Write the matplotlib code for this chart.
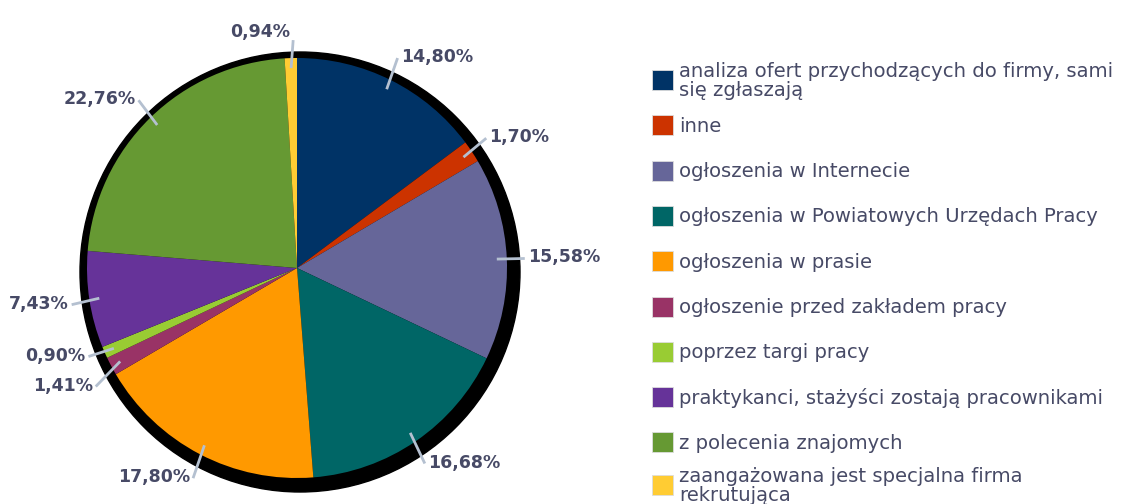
import numpy as np
import matplotlib
matplotlib.use("Agg")
import matplotlib.pyplot as plt
from matplotlib.patches import Circle, Rectangle

categories = [
    "analiza ofert przychodzących do firmy, sami\nsię zgłaszają",
    "inne",
    "ogłoszenia w Internecie",
    "ogłoszenia w Powiatowych Urzędach Pracy",
    "ogłoszenia w prasie",
    "ogłoszenie przed zakładem pracy",
    "poprzez targi pracy",
    "praktykanci, stażyści zostają pracownikami",
    "z polecenia znajomych",
    "zaangażowana jest specjalna firma\nrekrutująca",
]
values = [14.80, 1.70, 15.58, 16.68, 17.80, 1.41, 0.90, 7.43, 22.76, 0.94]
colors = ["#003366", "#CC3300", "#666699", "#006666", "#FF9900",
          "#993366", "#99CC33", "#663399", "#669933", "#FFCC33"]

TXT = "#474a66"
LEAD = "#b4c0d0"

W, H = 1128, 504
fig = plt.figure(figsize=(W / 100, H / 100), dpi=100)
ax = fig.add_axes([0, 0, 1, 1])

cx, cy, r = 297, 268, 210
# shadow
ax.add_patch(Circle((cx + 3, cy + 4), r + 10, color="black", zorder=1))

# y axis is inverted (pixel coordinates), so a visually clockwise pie
# starting at 12 o'clock is counterclockwise from -90 degrees in data space
wedges, _ = ax.pie(values, colors=colors, startangle=-90, counterclock=True,
                   radius=r, center=(cx, cy), wedgeprops=dict(linewidth=0),
                   frame=True)
for w in wedges:
    w.set_zorder(2)
ax.set_xlim(0, W)
ax.set_ylim(H, 0)
ax.set_aspect("equal")
ax.axis("off")

# label placement
cum = np.cumsum([0] + values[:-1])
labs = []
for v, c0 in zip(values, cum):
    ang = np.deg2rad(90 - (c0 + v / 2) * 3.6)
    ca, sa = np.cos(ang), -np.sin(ang)  # y axis inverted
    labs.append(dict(v=v, ca=ca, sa=sa, tx=cx + 231 * ca, ty=cy + 236 * sa))

# resolve vertical collisions on each side
min_gap = 30
for side in (1, -1):
    grp = sorted([l for l in labs if np.sign(l["ca"]) == side],
                 key=lambda l: l["ty"])
    for a, b in zip(grp[:-1], grp[1:]):
        gap = b["ty"] - a["ty"]
        if gap < min_gap:
            d = (min_gap - gap) / 2
            a["ty"] -= d
            b["ty"] += d

for l in labs:
    ca, sa = l["ca"], l["sa"]
    ha = "left" if ca >= 0 else "right"
    ex = l["tx"] - 3 * np.sign(ca)
    ey = l["ty"] + (1 if sa < -0.9 is False else 1)
    if sa < -0.9:
        ey = l["ty"] + 8
    ax.plot([cx + 200 * ca, ex], [cy + 200 * sa, ey],
            color=LEAD, lw=2, zorder=3, solid_capstyle="butt")
    ax.text(l["tx"], l["ty"], f"{l['v']:.2f}%".replace(".", ","), ha=ha,
            va="center", fontsize=12.5, fontweight="bold", color=TXT, zorder=4)

# legend
lx, ly0, step = 652, 80, 45.3
for i, (lab, col) in enumerate(zip(categories, colors)):
    y = ly0 + step * i
    if i == len(categories) - 1:
        y -= 3
    ax.add_patch(Rectangle((lx, y - 10), 21, 20, facecolor=col,
                           edgecolor="#dddddd", lw=0.6, zorder=3))
    ax.text(lx + 27, y + 1, lab, ha="left", va="center", fontsize=14.1,
            color=TXT, linespacing=1.02, zorder=4)

fig.savefig("out.png", dpi=100)
